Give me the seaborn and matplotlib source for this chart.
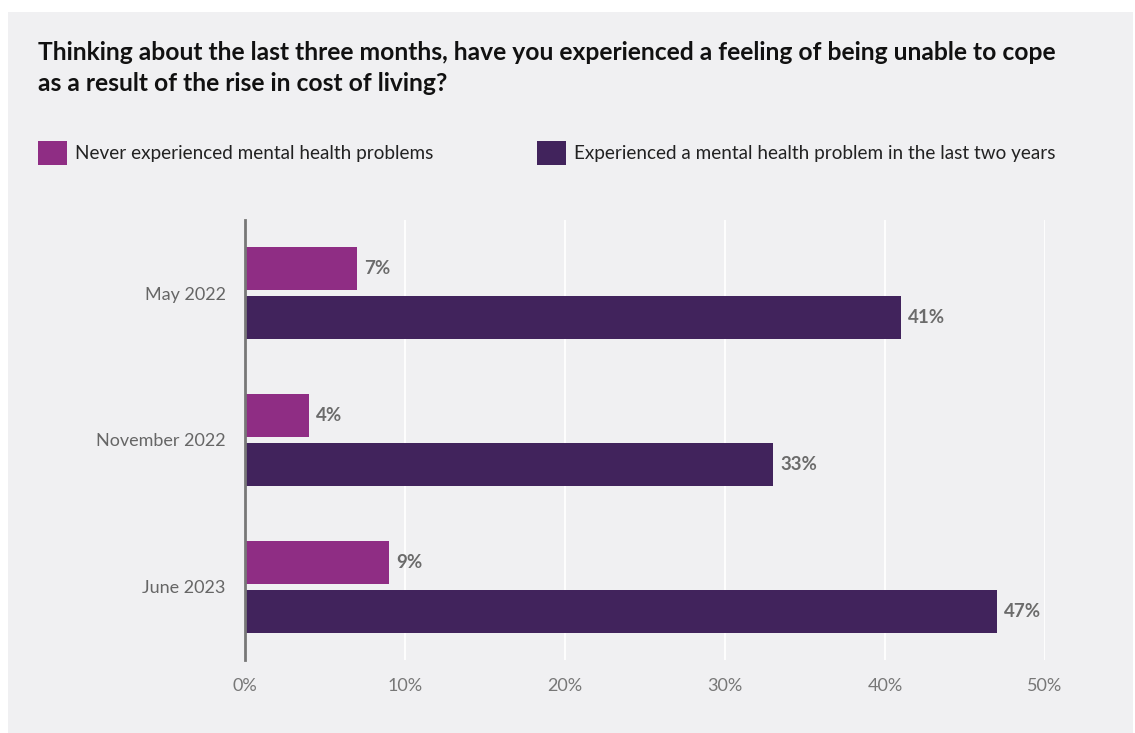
import matplotlib.pyplot as plt
import seaborn as sns
import pandas as pd
from matplotlib.patches import Rectangle

# data
periods = ['May 2022', 'November 2022', 'June 2023']
never = [7, 4, 9]
experienced = [41, 33, 47]
groups = ['Never experienced mental health problems',
          'Experienced a mental health problem in the last two years']
xticks = [0, 10, 20, 30, 40, 50]
title = ('Thinking about the last three months, have you experienced a feeling of being unable to cope\n'
         'as a result of the rise in cost of living?')

df = pd.DataFrame({
    'period': periods * 2,
    'group': [groups[0]] * len(periods) + [groups[1]] * len(periods),
    'value': never + experienced,
})

pink = '#8f2d84'
dark = '#41235c'
bg = '#f0f0f2'

sns.set_theme(style='white')
plt.rcParams['font.family'] = ['Lato', 'DejaVu Sans']

W, H = 1135, 733
fig = plt.figure(figsize=(W / 100, H / 100), dpi=100, facecolor='white')
# grey panel behind everything
fig.patches.append(Rectangle((8 / W, 0), (1133 - 8) / W, (H - 12) / H,
                             transform=fig.transFigure, facecolor=bg,
                             edgecolor='none', zorder=-10))

ax = fig.add_axes([245 / W, 73 / H, 800 / W, 440 / H])
ax.set_facecolor('none')

sns.barplot(data=df, x='value', y='period', hue='group', hue_order=groups,
            palette=[pink, dark], saturation=1, width=0.667, gap=0.12,
            orient='h', linewidth=0, ax=ax)

# legend at top, two columns
handles, labels = ax.get_legend_handles_labels()
ax.get_legend().remove()
for h in handles:
    h.set_linewidth(0)
fig.legend(handles, labels, loc='upper left', bbox_to_anchor=(38 / W, 1 - 141 / H),
           ncol=2, frameon=False, fontsize=13.6, labelcolor='#222222',
           handlelength=1.55, handleheight=1.55, handletextpad=0.42,
           columnspacing=5.45, borderpad=0, borderaxespad=0)

for cont in ax.containers:
    ax.bar_label(cont, fmt='{:.0f}%', padding=5, fontsize=13.5,
                 fontweight='bold', color='#6b6b6b')

ax.set_xlim(0, 50)
ax.set_xticks(xticks)
ax.set_xticklabels([f'{t}%' for t in xticks])
ax.set_xlabel('')
ax.set_ylabel('')
ax.grid(axis='x', color='white', linewidth=1.3)
ax.set_axisbelow(True)
for s in ['top', 'right', 'bottom']:
    ax.spines[s].set_visible(False)
ax.spines['left'].set_color('#777777')
ax.spines['left'].set_linewidth(2)
ax.spines['left'].set_zorder(5)
ax.tick_params(axis='x', length=0, pad=13, labelsize=13, labelcolor='#777777')
ax.tick_params(axis='y', length=0, pad=14, labelsize=13, labelcolor='#666666')

fig.text(38 / W, 1 - 41 / H, title, ha='left', va='top', fontsize=17.7,
         fontweight='bold', color='#111111', linespacing=1.4)

fig.savefig('out.png', dpi=100, facecolor=fig.get_facecolor())
